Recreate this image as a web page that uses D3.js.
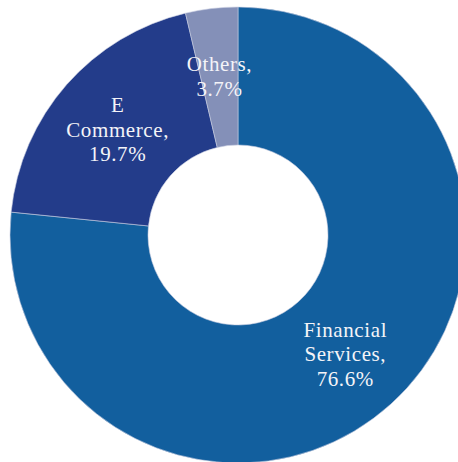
<!DOCTYPE html>
<html>
<head>
<meta charset="utf-8">
<script src="https://cdn.jsdelivr.net/npm/d3@7"></script>
<style>
  body { margin: 0; background: #fff; }
  svg { display: block; }
</style>
</head>
<body>
<div class="plot"></div>
<script>
const w = 458, h = 462;

// Data
const categories = ["Financial Services", "E Commerce", "Others"];
const values = [76.6, 19.7, 3.7];
const labelLines = [["Financial", "Services,", "76.6%"], ["E", "Commerce,", "19.7%"], ["Others,", "3.7%"]];
const colors = ["#125f9e", "#233c8a", "#8490b8"];

const cx = 238, cy = 235;
const outerR = 228, innerR = 90, labelR = 160;

const svg = d3.select(".plot")
    .append("svg")
        .attr("width", w)
        .attr("height", h);

const g = svg.append("g")
    .attr("transform", "translate(" + cx + "," + cy + ")");

const pie = d3.pie().sort(null).value(d => d);
const arcs = pie(values);

const arc = d3.arc().innerRadius(innerR).outerRadius(outerR);
const labelArc = d3.arc().innerRadius(labelR).outerRadius(labelR);

// slices
g.selectAll("path")
    .data(arcs)
    .enter()
    .append("path")
        .attr("d", arc)
        .attr("fill", (d, i) => colors[i])
        .attr("stroke", "#c8cde0")
        .attr("stroke-width", 0.6);

// labels
const lh = 24.5;
arcs.forEach((d, i) => {
    const [lx, ly] = labelArc.centroid(d);
    const lines = labelLines[i];
    const t = g.append("text")
        .attr("text-anchor", "middle")
        .attr("fill", "#f4f4f8")
        .style("font-family", "'Liberation Serif', 'Times New Roman', serif")
        .style("font-size", "21px")
        .style("letter-spacing", "0.6px");
    lines.forEach((s, j) => {
        t.append("tspan")
            .attr("x", lx)
            .attr("y", ly + (j - (lines.length - 1) / 2) * lh)
            .attr("dy", "0.35em")
            .text(s);
    });
});
</script>
</body>
</html>
